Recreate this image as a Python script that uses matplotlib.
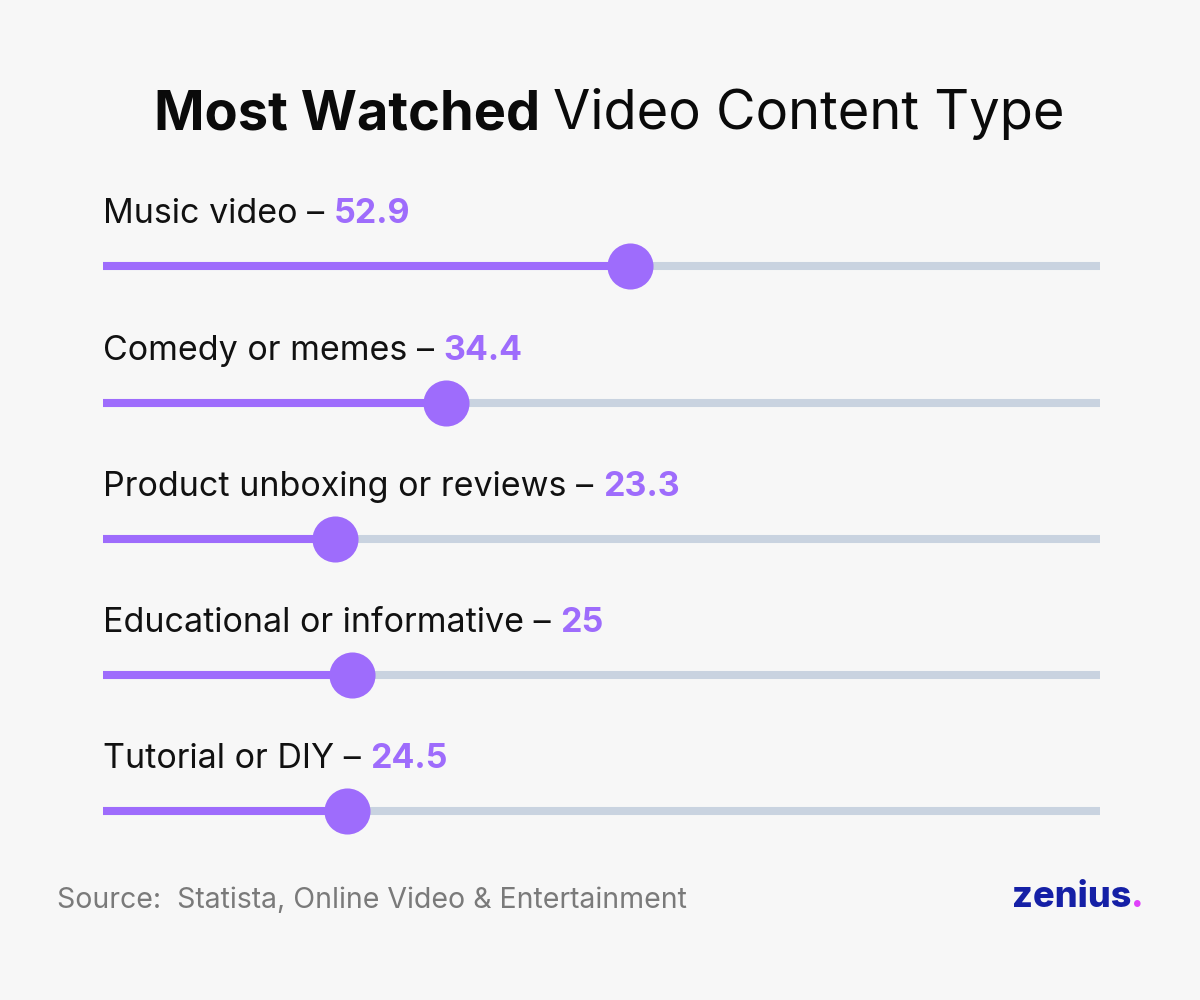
import matplotlib.pyplot as plt

categories = ["Music video", "Comedy or memes", "Product unboxing or reviews",
              "Educational or informative", "Tutorial or DIY"]
values = [52.9, 34.4, 23.3, 25, 24.5]
value_labels = ["52.9", "34.4", "23.3", "25", "24.5"]

purple = "#9E6CFC"
track = "#C9D3E0"
bg = "#F7F7F7"
font = "Inter"

fig = plt.figure(figsize=(12, 10), dpi=100, facecolor=bg)
# axes covering the track area: x in percent, y in pixel rows of the figure
ax = fig.add_axes([103 / 1200, 0, 997 / 1200, 1])
ax.set_xlim(0, 100)
ax.set_ylim(1000, 0)
ax.axis("off")

row_y = [266, 403, 539, 675, 811]

for y, v in zip(row_y, values):
    ax.plot([0, 100], [y, y], color=track, lw=5.8, solid_capstyle="butt", zorder=1)
    ax.plot([0, v], [y, y], color=purple, lw=5.8, solid_capstyle="butt", zorder=2)
    ax.scatter([v], [y], s=1100, color=purple, zorder=3, linewidths=0)

fig.canvas.draw()
renderer = fig.canvas.get_renderer()

# labels with coloured values
for y, cat, lab in zip(row_y, categories, value_labels):
    t = ax.text(0, y - 43, f"{cat} – ", fontsize=24.5, family=font, color="#111111",
                ha="left", va="baseline")
    x_px = t.get_window_extent(renderer=renderer).x1
    fig.text(x_px / 1200, 1 - (y - 43) / 1000, lab, fontsize=24.5, family=font,
             fontweight="bold", color=purple, ha="left", va="baseline")

# title in two weights, centred
t1 = fig.text(0, 1 - 129 / 1000, "Most Watched ", fontsize=39, family=font,
              fontweight="bold", color="#0A0A0A", va="baseline")
t2 = fig.text(0, 1 - 129 / 1000, "Video Content Type", fontsize=39, family=font,
              color="#0A0A0A", va="baseline")
w1 = t1.get_window_extent(renderer=renderer).width
w2 = t2.get_window_extent(renderer=renderer).width
start = 609 - (w1 + w2) / 2
t1.set_x(start / 1200)
t2.set_x((start + w1) / 1200)

fig.text(57 / 1200, 1 - 908 / 1000, "Source:  Statista, Online Video & Entertainment",
         fontsize=20.5, family=font, color="#7A7A7A", va="baseline")

z = fig.text(1012 / 1200, 1 - 907 / 1000, "zenius", fontsize=26, family=font,
             fontweight="heavy", color="#1520A6", va="baseline")
zb = z.get_window_extent(renderer=renderer)
fig.text(zb.x1 / 1200, 1 - 907 / 1000, ".", fontsize=26, family=font,
         fontweight="heavy", color="#E040FB", va="baseline")

fig.savefig("out.png", dpi=100, facecolor=bg)
